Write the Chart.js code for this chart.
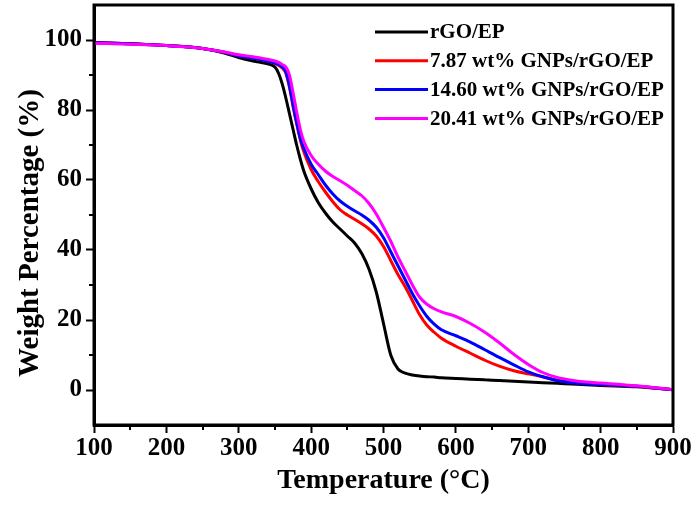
<!DOCTYPE html>
<html>
<head>
<meta charset="utf-8">
<script src="https://cdn.jsdelivr.net/npm/chart.js@4"></script>
<style>
  html, body { margin: 0; padding: 0; background: #fff; }
  #wrap { width: 694px; height: 506px; }
</style>
</head>
<body>
<div id="wrap"><canvas id="tga" width="694" height="506"></canvas></div>
<script>
/* ---- data ---- */
const temps = [100, 150, 200, 250, 280, 300, 320, 340, 350, 355, 360, 365, 370, 375, 380, 385, 390,
  400, 410, 420, 430, 440, 450, 460, 470, 480, 490, 500, 510, 520, 530, 540, 550, 560, 570, 580,
  600, 620, 640, 660, 680, 700, 720, 740, 760, 780, 800, 850, 900];

const rgoEp = [99.3, 98.9, 98.4, 97.6, 96.3, 95.0, 94.0, 93.2, 92.3, 90.5, 87.5, 83.5, 79, 74.5, 70, 66, 62.5,
  57.5, 53.5, 50.5, 48, 46, 44, 42, 39, 34.5, 28, 19, 10, 6, 4.8, 4.3, 4.0, 3.8, 3.7, 3.5,
  3.3, 3.1, 2.9, 2.7, 2.5, 2.3, 2.1, 1.9, 1.7, 1.5, 1.3, 0.9, 0.1];

const gnp787 = [99.3, 98.9, 98.4, 97.6, 96.5, 95.5, 94.8, 94.0, 93.3, 92.8, 92.0, 90.5, 86.5, 81, 76, 71.5, 68,
  63, 59.5, 56.5, 53.8, 51.5, 50, 48.8, 47.5, 46, 44, 41, 37, 33, 29.5, 25.5, 21.5, 18.5, 16.5, 14.8,
  12.5, 10.5, 8.5, 6.8, 5.5, 4.6, 3.8, 2.8, 2.2, 1.9, 1.6, 1.0, 0.1];

const gnp1460 = [99.3, 98.9, 98.4, 97.6, 96.5, 95.5, 94.8, 94.0, 93.4, 93.0, 92.3, 91, 87, 81.5, 76.5, 72, 69,
  64.5, 61.5, 58.5, 56, 54, 52.5, 51.2, 50, 48.5, 46.5, 43.5, 39.5, 35.5, 31.5, 27.5, 24, 21, 18.8, 17.2,
  15.5, 13.7, 11.5, 9.3, 7.2, 5.2, 3.8, 2.7, 2.1, 1.8, 1.6, 1.1, 0.1];

const gnp2041 = [99.1, 98.8, 98.4, 97.6, 96.6, 95.8, 95.2, 94.5, 94.0, 93.6, 93.0, 92.3, 90, 85, 79.5, 74.5, 71,
  67, 64.5, 62.5, 61, 59.8, 58.5, 57, 55.5, 53.3, 50.3, 46.5, 42.5, 38, 34, 30, 26.5, 24.5, 23.2, 22.3,
  21, 19, 16.5, 13.5, 10.2, 7.3, 5.0, 3.6, 2.8, 2.3, 2.0, 1.2, 0.1];

const seriesNames = ['rGO/EP', '7.87 wt% GNPs/rGO/EP', '14.60 wt% GNPs/rGO/EP', '20.41 wt% GNPs/rGO/EP'];
const seriesColors = ['#000000', '#FF0000', '#0000FF', '#FF00FF'];

const xTicks = [100, 200, 300, 400, 500, 600, 700, 800, 900];
const yTicks = [0, 20, 40, 60, 80, 100];

const SERIF = '"Liberation Serif", "Times New Roman", serif';

function toPoints(ys) {
  return temps.map((t, i) => ({ x: t, y: ys[i] }));
}

const allSeries = [rgoEp, gnp787, gnp1460, gnp2041];
// magenta sits on top in the original, black at the back
const datasets = allSeries.map((ys, i) => ({
  label: seriesNames[i],
  data: toPoints(ys),
  borderColor: seriesColors[i],
  borderWidth: 3,
  pointRadius: 0,
  cubicInterpolationMode: 'monotone',
  fill: false,
  order: 4 - i,
}));

function noPad(s) {
  s.paddingTop = 0;
  s.paddingBottom = 0;
  s.paddingLeft = 0;
  s.paddingRight = 0;
}

/* ---- frame, minor ticks, y title and legend ---- */
const framePlugin = {
  id: 'frame',
  afterDraw(chart) {
    const { ctx, chartArea: a, scales } = chart;
    ctx.save();
    ctx.strokeStyle = '#000';
    ctx.lineWidth = 3;
    ctx.strokeRect(a.left, a.top, a.right - a.left, a.bottom - a.top);

    // minor ticks
    ctx.lineWidth = 2;
    ctx.beginPath();
    for (let v = 150; v < 900; v += 100) {
      const px = Math.round(scales.x.getPixelForValue(v));
      ctx.moveTo(px, a.bottom);
      ctx.lineTo(px, a.bottom + 5);
    }
    for (let v = 10; v < 100; v += 20) {
      const py = Math.round(scales.y.getPixelForValue(v));
      ctx.moveTo(a.left, py);
      ctx.lineTo(a.left - 5, py);
    }
    ctx.stroke();

    // y title, sits a little below the plot centre in the original
    ctx.save();
    ctx.translate(31, 233);
    ctx.rotate(-Math.PI / 2);
    ctx.font = 'bold 29px ' + SERIF;
    ctx.fillStyle = '#000';
    ctx.textAlign = 'center';
    ctx.textBaseline = 'middle';
    ctx.fillText('Weight Percentage (%)', 0, 0);
    ctx.restore();

    // legend
    const lx0 = 375, lx1 = 428, tx = 430;
    let ly = 32;
    ctx.font = 'bold 21px ' + SERIF;
    ctx.textBaseline = 'middle';
    ctx.textAlign = 'left';
    seriesNames.forEach((name, i) => {
      ctx.strokeStyle = seriesColors[i];
      ctx.lineWidth = 3;
      ctx.beginPath();
      ctx.moveTo(lx0, ly);
      ctx.lineTo(lx1, ly);
      ctx.stroke();
      ctx.fillStyle = '#000';
      ctx.fillText(name, tx, ly + 1);
      ly += 28.8;
    });
    ctx.restore();
  }
};

new Chart(document.getElementById('tga'), {
  type: 'line',
  data: { datasets },
  options: {
    responsive: false,
    animation: false,
    layout: { padding: { left: 0, right: 21, top: 5, bottom: 0 } },
    plugins: { legend: { display: false }, tooltip: { enabled: false } },
    scales: {
      x: {
        type: 'linear',
        min: 100, max: 900,
        afterFit(s) { s.height = 81; noPad(s); },
        afterBuildTicks(s) { s.ticks = xTicks.map(v => ({ value: v })); },
        ticks: {
          color: '#000',
          font: { family: SERIF, size: 25, weight: 'bold' },
          padding: 1,
          maxRotation: 0,
          autoSkip: false,
        },
        grid: { drawOnChartArea: false, tickLength: 8, tickWidth: 2, tickColor: '#000' },
        border: { color: '#000', width: 3 },
        title: {
          display: true,
          text: 'Temperature (°C)',
          color: '#000',
          font: { family: SERIF, size: 28, weight: 'bold' },
          padding: { top: 0, bottom: 8 },
        },
      },
      y: {
        type: 'linear',
        min: -10, max: 110,
        afterFit(s) { s.width = 94; noPad(s); },
        afterBuildTicks(s) { s.ticks = yTicks.map(v => ({ value: v })); },
        ticks: {
          color: '#000',
          font: { family: SERIF, size: 25, weight: 'bold' },
          padding: 4,
          autoSkip: false,
        },
        grid: { drawOnChartArea: false, tickLength: 8, tickWidth: 2, tickColor: '#000' },
        border: { color: '#000', width: 3 },
        title: { display: false },
      },
    },
  },
  plugins: [framePlugin],
});
</script>
</body>
</html>
